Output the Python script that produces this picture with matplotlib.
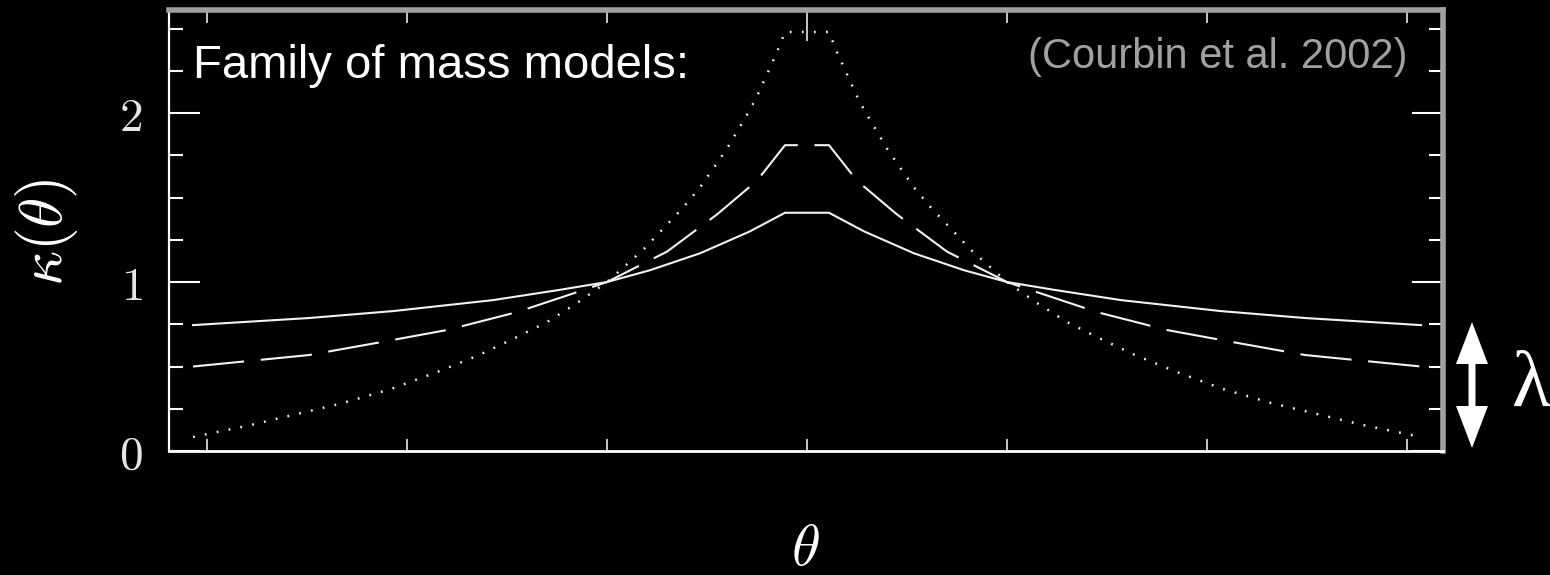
import matplotlib
matplotlib.use('Agg')
import matplotlib.pyplot as plt
from matplotlib.patches import Polygon

# ---- data ----
theta_dotted = [-3.07, -2.78, -2.55, -2.32, -2.08, -1.85, -1.64, -1.47, -1.30, -1.15, -1.00,
                -0.82, -0.70, -0.62, -0.535, -0.47, -0.40, -0.335, -0.285, -0.25, -0.20, -0.15, -0.11,
                0.11, 0.15, 0.20, 0.25, 0.285, 0.335, 0.40, 0.47, 0.535, 0.62, 0.70, 0.82,
                1.00, 1.15, 1.30, 1.47, 1.64, 1.85, 2.08, 2.32, 2.55, 2.78, 3.07]
kappa_dotted = [0.083, 0.154, 0.219, 0.284, 0.367, 0.467, 0.568, 0.663, 0.763, 0.876, 1.00,
                1.19, 1.34, 1.44, 1.56, 1.67, 1.79, 1.92, 2.02, 2.10, 2.23, 2.36, 2.48,
                2.48, 2.36, 2.23, 2.10, 2.02, 1.92, 1.79, 1.67, 1.56, 1.44, 1.34, 1.19,
                1.00, 0.876, 0.763, 0.663, 0.568, 0.467, 0.367, 0.284, 0.219, 0.154, 0.083]

theta_dashed = [-3.07, -2.49, -2.15, -1.80, -1.45, -1.15, -1.00, -0.70, -0.45, -0.25, -0.11,
                0.11, 0.25, 0.45, 0.70, 1.00, 1.15, 1.45, 1.80, 2.15, 2.49, 3.07]
kappa_dashed = [0.50, 0.568, 0.64, 0.716, 0.822, 0.94, 1.00, 1.18, 1.40, 1.60, 1.81,
                1.81, 1.60, 1.40, 1.18, 1.00, 0.94, 0.822, 0.716, 0.64, 0.568, 0.50]

theta_solid = [-3.07, -2.49, -2.07, -1.57, -1.24, -1.00, -0.785, -0.535, -0.285, -0.11,
               0.11, 0.285, 0.535, 0.785, 1.00, 1.24, 1.57, 2.07, 2.49, 3.07]
kappa_solid = [0.745, 0.787, 0.828, 0.893, 0.953, 1.00, 1.07, 1.17, 1.30, 1.41,
               1.41, 1.30, 1.17, 1.07, 1.00, 0.953, 0.893, 0.828, 0.787, 0.745]

x_ticks = [-3, -2, -1, 0, 1, 2, 3]
y_ticks = [0, 1, 2]
y_ticklabels = ['$0$', '$1$', '$2$']
y_minor = [0.25, 0.5, 0.75, 1.25, 1.5, 1.75, 2.25, 2.5]

plt.rcParams['mathtext.fontset'] = 'cm'
plt.rcParams['lines.scale_dashes'] = False

W, H = 1550, 575
fig = plt.figure(figsize=(W / 100, H / 100), dpi=100, facecolor='black')
ax = fig.add_axes([169 / W, 1 - 451 / H, (1443 - 169) / W, 441 / H])
ax.set_facecolor('black')

line_col = '#f2f2f2'
ax.plot(theta_solid, kappa_solid, color=line_col, lw=1.5)
ax.plot(theta_dashed, kappa_dashed, color=line_col, lw=1.5, dashes=(37, 12))
ax.plot(theta_dotted, kappa_dotted, color=line_col, lw=1.8, dashes=(1.3, 7.4))

ax.set_xlim(-3.19, 3.18)
ax.set_ylim(0, 2.61)

# spines
ax.spines['left'].set_color('white')
ax.spines['left'].set_linewidth(1.6)
ax.spines['bottom'].set_color('white')
ax.spines['bottom'].set_linewidth(2.0)
for s in ('top', 'right'):
    ax.spines[s].set_color('#a0a0a0')
    ax.spines[s].set_linewidth(4)

# ticks
ax.set_xticks(x_ticks)
ax.set_xticklabels([])
ax.set_yticks(y_ticks)
ax.set_yticklabels(y_ticklabels)
ax.set_yticks(y_minor, minor=True)
ax.tick_params(axis='x', which='major', direction='in', length=9, width=1.4,
               top=True, bottom=True, color='#c8c8c8')
ax.tick_params(axis='y', which='major', direction='in', length=22, width=1.5,
               left=True, right=True, color='white', pad=19,
               labelsize=34, labelcolor='#e6e6e6')
ax.tick_params(axis='y', which='minor', direction='in', length=10, width=1.5,
               left=True, right=True, color='white')
for t in ax.yaxis.get_major_ticks() + ax.yaxis.get_minor_ticks():
    t.tick2line.set_color('#b4b4b4')
for t in ax.xaxis.get_major_ticks():
    t.tick2line.set_color('#b4b4b4')
ax.xaxis.get_major_ticks()[3].tick2line.set_markersize(22)

# axis labels
ax.set_xlabel(r'$\theta$', fontsize=42, color='white')
ax.xaxis.label.set_va('center')
ax.xaxis.set_label_coords(0.4992, -0.22)
ax.set_ylabel(r'$\kappa(\theta)$', fontsize=44, color='white')
ax.yaxis.label.set_va('center')
ax.yaxis.set_label_coords(-0.096, 0.497)

# annotations
fig.text(193 / W, 1 - 78 / H, 'Family of mass models:', fontfamily='Liberation Sans',
         fontsize=34, color='white', va='baseline', ha='left')
fig.text(1407 / W, 1 - 68 / H, '(Courbin et al. 2002)', fontfamily='Liberation Sans',
         fontsize=30, color='#a0a0a0', va='baseline', ha='right')
fig.text(1512 / W, 1 - 407 / H, '\u03bb', fontfamily='Liberation Serif',
         fontsize=58, color='white', va='baseline', ha='left')

# double-headed arrow (pixel geometry of the reference)
cx, top, bot, hl, hw, sw = 1472, 322, 448, 42, 16, 3.5
pts = [(cx, top), (cx + hw, top + hl), (cx + sw, top + hl), (cx + sw, bot - hl),
       (cx + hw, bot - hl), (cx, bot), (cx - hw, bot - hl), (cx - sw, bot - hl),
       (cx - sw, top + hl), (cx - hw, top + hl)]
fig.add_artist(Polygon([(x / W, 1 - y / H) for x, y in pts], closed=True,
                       transform=fig.transFigure, facecolor='white', edgecolor='none'))

fig.savefig('out.png', dpi=100, facecolor='black')
